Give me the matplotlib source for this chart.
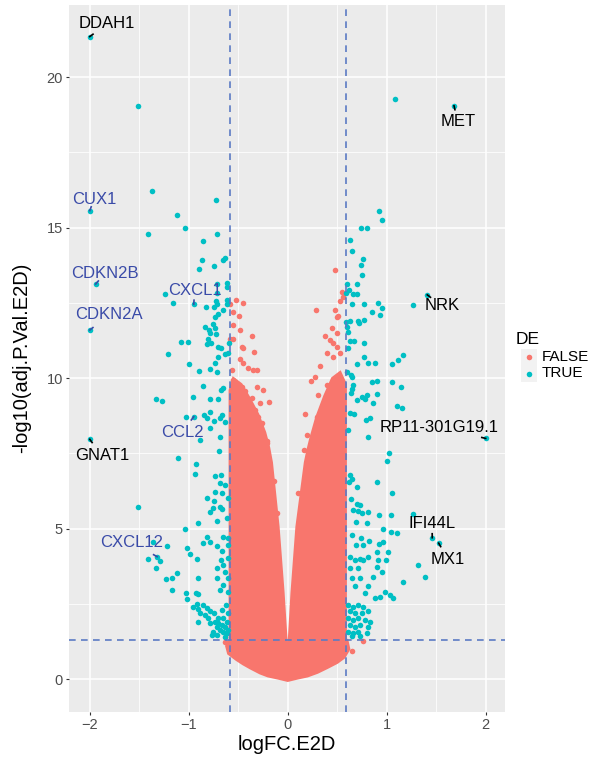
import matplotlib
matplotlib.use("Agg")
import matplotlib.pyplot as plt
import numpy as np

plt.rcParams['font.family'] = ['Liberation Sans', 'DejaVu Sans']

RED = '#F8766D'
CYAN = '#00BFC4'
BLUE_TXT = '#3A4BA8'
DASH = '#5B7BC4'

# dense, non-significant core of the cloud (outline)
core_x = [-0.55, -0.585, -0.585, -0.62, -0.60, -0.52, -0.45, -0.38, -0.28, -0.20, -0.10,
          0.0, 0.10, 0.20, 0.30, 0.40, 0.50, 0.57, 0.62, 0.60, 0.585, 0.585,
          0.53, 0.45, 0.37, 0.29, 0.23, 0.20, 0.175, 0.09, 0.04, 0.0,
          -0.044, -0.095, -0.162, -0.19, -0.23, -0.30, -0.38, -0.47]
core_y = [10.0, 9.6, 1.3, 1.1, 0.85, 0.65, 0.5, 0.37, 0.2, 0.1, 0.03,
          -0.05, 0.03, 0.1, 0.22, 0.38, 0.55, 0.72, 1.0, 1.3, 1.3, 9.8,
          10.2, 10.0, 9.4, 8.7, 8.0, 7.6, 7.2, 5.07, 2.86, 0.55,
          2.86, 5.07, 7.2, 7.7, 8.2, 8.8, 9.3, 9.8]

# scattered non-significant genes around the core
red_x = [-0.518, -0.455, -0.583, -0.489, -0.549, -0.482, -0.364, -0.465, -0.34, -0.58, -0.549, -0.482,
         -0.549, -0.455, -0.448, -0.398, -0.347, -0.313, -0.566, -0.549, -0.313, -0.465, -0.431, -0.518,
         -0.364, -0.280, -0.186, -0.330, -0.448, -0.381, -0.297, -0.263, -0.518, -0.465, -0.398, -0.212,
         -0.313, -0.633, -0.11, -0.14, -0.21, -0.25,
         0.478, 0.545, 0.562, 0.528, 0.286, 0.511, 0.444, 0.495, 0.377, 0.427, 0.461, 0.394, 0.528,
         0.478, 0.495, 0.495, 0.461, 0.326, 0.276, 0.394, 0.444, 0.31, 0.495, 0.528, 0.36, 0.461,
         0.175, 0.293, 0.394, 0.192, 0.208, 0.461, 0.764, 0.646, 0.124, 0.107, 0.16, 0.23]
red_y = [12.59, 12.49, 12.45, 12.08, 11.76, 11.60, 11.40, 11.04, 10.87, 11.31, 11.31, 10.64,
         12.21, 11.0, 10.50, 10.33, 10.28, 10.28, 10.28, 9.94, 9.70, 9.70, 9.56, 9.61,
         9.34, 9.17, 9.20, 8.95, 9.06, 8.84, 8.72, 8.50, 8.72, 8.39, 8.17, 7.84,
         7.95, 1.22, 5.51, 6.6, 7.9, 9.6,
         13.58, 12.88, 12.71, 12.55, 12.25, 12.07, 11.66, 11.50, 11.41, 11.27, 11.16, 10.83, 10.83,
         12.27, 12.05, 11.05, 10.72, 10.39, 10.05, 9.78, 9.67, 9.45, 9.56, 9.34, 9.06, 8.95,
         8.81, 8.72, 8.61, 8.12, 7.29, 8.28, 1.27, 0.94, 5.29, 6.18, 7.6, 9.9]

# significant genes (DE = TRUE)
cyan_x = [-1.51, -1.376, -0.725, -1.114, -1.037, -1.408, -0.717, -0.856, -0.63, -0.65, -0.866, -0.747,
          -0.893, -0.616, -0.711, -1.24, -0.61, -1.155, -0.711, -0.724, -0.711, -0.741, -0.616, -0.61,
          -0.828, -0.65, -0.70, -0.73, -0.757, -0.835, -0.80, -0.785, -0.734, -0.724, -0.805, -0.812,
          -0.775, -1.08, -1.007, -0.70, -0.674, -0.59, -0.60, -0.633, -1.212, -0.707, -0.997, -0.731,
          -0.785, -0.717, -0.899, -0.859, -0.65, -0.674, -1.327, -1.27, -0.954, -0.79, -0.70,
          -1.027, -0.842, -0.818, -0.785, -0.741, -0.684, -0.633, -0.667, -0.785, -0.886, -0.684, -1.105,
          -0.69, -0.923, -0.936, -0.731, -0.674, -0.633, -0.684, -0.734, -0.667, -0.60, -0.818, -0.741,
          -0.684, -0.751, -0.667, -1.515, -0.785, -0.717, -0.616, -0.909, -1.037,
          -0.812, -0.859, -0.785, -0.717, -0.60, -0.65, -0.60, -0.667,
          -1.358, -1.222, -1.414, -1.29, -1.334, -1.02, -0.987, -0.919,
          -0.677, -0.65, -0.60, -0.633, -0.717, -1.121, -1.166, -1.232, -1.172,
          -0.903, -0.903, -0.926, -1.03, -1.014, -0.96, -0.919, -0.903,
          -0.717, -0.65, -0.60, -0.684, -0.60,
          -0.853, -0.818, -0.785, -0.835, -0.802, -0.886, -0.903,
          -0.734, -0.70, -0.667, -0.633, -0.717, -0.684, -0.65, -0.616, -0.751, -0.785, -0.70, -0.65,
          -0.616, -0.717, -0.768, -0.63, -0.60, -0.60, -0.62, -0.66, -0.74,
          1.084, 0.919, 0.953, 0.737, 0.804, 0.632, 0.653, 0.764, 0.737, 0.753,
          0.602, 0.622, 0.656, 0.697, 0.703, 0.59,
          0.646, 0.774, 0.915, 0.949, 0.855, 0.932, 1.269,
          0.629, 0.589, 0.713, 0.72, 0.771, 0.596, 0.612,
          0.629, 0.67, 0.768, 0.606,
          0.774, 0.814, 0.885, 0.697, 1.05, 1.111, 1.165,
          0.602, 0.639, 0.653, 0.848, 0.899, 1.05, 1.147,
          0.663, 0.646, 0.639, 0.697, 0.747, 0.798, 0.784, 0.865, 0.905, 1.101, 1.152,
          0.629, 0.67, 0.791, 0.831, 0.612, 0.814, 1.023, 1.0,
          0.629, 0.653, 0.622, 0.697, 0.899, 1.057,
          0.639, 0.697, 0.73, 0.663, 0.713, 0.747, 0.814, 0.687, 0.798,
          0.925, 1.043, 1.263, 0.966, 1.040, 1.101,
          0.646, 0.687, 0.740, 0.764, 0.824, 0.922, 0.966, 0.899, 0.814, 0.764,
          0.629, 0.680, 0.730, 1.016, 0.993, 0.915, 0.899, 0.95, 0.865,
          1.313, 1.387, 1.162,
          0.629, 0.713, 0.646, 0.730, 0.680, 0.814, 0.780, 0.882, 0.932, 0.983, 1.033, 1.067,
          0.612, 0.663, 0.713, 0.764, 0.629, 0.680, 0.747, 0.814, 0.612, 0.663, 0.713, 0.780,
          0.831, 0.629, 0.680, 0.730, 0.612, 0.663, 0.713, 0.646, 0.730, 0.814, 0.797]
cyan_y = [19.05, 16.22, 15.91, 15.41, 14.99, 14.79, 14.79, 14.57, 14.0, 13.92, 13.92, 13.74,
          13.63, 13.16, 13.13, 12.81, 13.02, 12.5, 12.82, 12.58, 12.47, 12.38, 12.6, 12.47,
          12.35, 12.27, 12.15, 12.03, 11.8, 11.69, 11.6, 11.51, 11.68, 11.46, 11.3, 11.14,
          11.16, 11.2, 11.2, 11.05, 11.02, 11.18, 10.83, 10.81, 10.8, 10.72, 10.47, 10.5,
          10.31, 10.22, 10.24, 9.75, 9.69, 9.61, 9.31, 9.25, 9.37, 9.31, 9.31,
          8.70, 8.78, 8.67, 8.87, 8.58, 8.69, 8.56, 8.78, 8.34, 7.95, 8.06, 7.34,
          7.58, 7.14, 6.83, 6.76, 6.79, 6.45, 6.51, 6.23, 6.18, 6.01, 6.01, 5.92,
          5.73, 5.68, 5.65, 5.73, 5.57, 5.26, 5.35, 5.18, 4.98,
          4.72, 4.54, 4.55, 4.41, 4.46, 4.74, 4.68, 4.27,
          4.57, 4.43, 3.99, 3.94, 3.71, 4.35, 4.15, 3.99,
          3.96, 3.80, 4.02, 3.57, 3.69, 3.52, 3.36, 3.33, 2.97,
          3.36, 2.82, 2.88, 2.88, 2.66, 2.41, 2.49, 2.34,
          3.36, 3.13, 3.36, 2.97, 2.91,
          2.47, 2.36, 2.25, 2.14, 2.03, 2.19, 1.89,
          1.91, 1.86, 1.80, 1.75, 1.75, 1.64, 1.58, 1.53, 1.58, 1.86, 2.03, 2.03,
          1.91, 1.47, 1.47, 1.40, 1.65, 2.20, 2.45, 2.30, 2.20,
          19.28, 15.56, 15.26, 14.99, 14.99, 14.6, 14.23, 13.96, 13.76, 13.43,
          13.12, 12.93, 12.81, 12.81, 13.12, 12.82,
          12.46, 12.46, 12.49, 12.34, 12.19, 12.09, 12.44,
          11.9, 11.86, 11.91, 11.85, 11.93, 11.69, 11.55,
          11.22, 11.22, 11.17, 11.0,
          10.72, 10.49, 10.5, 10.47, 10.47, 10.6, 10.77,
          10.22, 10.1, 10.05, 9.88, 9.92, 9.89, 9.71,
          9.78, 9.63, 9.5, 9.28, 9.37, 9.44, 9.31, 9.17, 9.47, 9.08, 9.0,
          8.84, 8.81, 8.61, 8.67, 8.28, 8.04, 7.53, 7.25,
          6.79, 6.65, 6.56, 6.40, 6.56, 6.18,
          5.99, 5.81, 5.79, 5.62, 5.59, 5.51, 5.55, 5.22, 5.18,
          5.46, 5.46, 5.50, 4.99, 4.89, 4.85,
          4.79, 4.46, 4.68, 4.46, 4.60, 4.49, 4.55, 4.21, 4.07, 3.96,
          4.07, 3.96, 4.0, 4.24, 3.96, 3.96, 3.74, 3.57, 3.41,
          3.80, 3.39, 3.24,
          3.69, 3.69, 3.36, 3.36, 3.08, 3.08, 2.86, 2.71, 2.74, 2.91, 2.80, 2.71,
          2.47, 2.41, 2.47, 2.41, 2.25, 2.19, 2.19, 2.25, 2.03, 1.97, 2.03, 1.97,
          1.91, 1.80, 1.75, 1.80, 1.58, 1.53, 1.58, 1.42, 1.42, 1.75, 1.53]

# labelled genes
lab_names = ['DDAH1', 'CUX1', 'CDKN2B', 'CDKN2A', 'CXCL1', 'MET', 'NRK', 'GNAT1',
             'CCL2', 'CXCL12', 'RP11-301G19.1', 'IFI44L', 'MX1']
lab_x = [-2.0, -2.0, -1.94, -2.0, -0.95, 1.68, 1.41, -2.0, -0.95, -1.32, 2.0, 1.46, 1.525]
lab_y = [21.35, 15.57, 13.13, 11.6, 12.46, 19.05, 12.77, 7.97, 8.72, 4.07, 8.0, 4.7, 4.52]
lab_tx = [-1.828, -1.957, -1.846, -1.805, -0.939, 1.717, 1.556, -1.879, -1.068, -1.575, 1.525, 1.458, 1.619]
lab_ty = [21.77, 15.95, 13.49, 12.11, 12.93, 18.53, 12.40, 7.42, 8.20, 4.55, 8.37, 5.18, 3.98]
lab_blue = [False, True, True, True, True, False, False, False, True, True, False, False, False]

W, H = 606, 761
fig = plt.figure(figsize=(W / 100, H / 100), dpi=100)
fig.patch.set_facecolor('white')
ax = fig.add_axes([69 / W, 1 - 711.7 / H, 436 / W, 706.7 / H])
ax.set_facecolor('#EBEBEB')
for s in ax.spines.values():
    s.set_visible(False)

ax.set_xlim(-2.21, 2.195)
ax.set_ylim(-1.08, 22.4)
ax.set_xticks([-2, -1, 0, 1, 2])
ax.set_yticks([0, 5, 10, 15, 20])
ax.set_xticks([-1.5, -0.5, 0.5, 1.5], minor=True)
ax.set_yticks([2.5, 7.5, 12.5, 17.5], minor=True)
ax.grid(which='major', color='white', linewidth=1.1)
ax.grid(which='minor', color='white', linewidth=0.55)
ax.set_axisbelow(True)
ax.tick_params(which='major', length=2.5, width=0.8, color='#333333',
               labelcolor='#4D4D4D', labelsize=10.5, pad=2)
ax.tick_params(which='minor', length=0)

ax.fill(core_x, core_y, color=RED, lw=1.8, ec=RED, zorder=2)
ax.scatter(red_x, red_y, s=16, c=RED, linewidths=0, zorder=3)
ax.scatter(cyan_x, cyan_y, s=16, c=CYAN, linewidths=0, zorder=3)
ax.scatter(lab_x, lab_y, s=16, c=CYAN, linewidths=0, zorder=3)

ax.axvline(-0.585, color=DASH, lw=1.2, ls=(0, (4, 3.2)), zorder=4)
ax.axvline(0.585, color=DASH, lw=1.2, ls=(0, (4, 3.2)), zorder=4)
ax.axhline(-np.log10(0.05), color=DASH, lw=1.2, ls=(0, (4, 3.2)), zorder=4)

# short repel segments + labels
sx, sy = 99.0, 30.1  # px per data unit
for name, px, py, tx, ty, blue in zip(lab_names, lab_x, lab_y, lab_tx, lab_ty, lab_blue):
    col = BLUE_TXT if blue else 'black'
    dx, dy = (tx - px) * sx, (ty - py) * sy
    n = np.hypot(dx, dy)
    ax.plot([px, px + dx / n * 4 / sx], [py, py + dy / n * 4 / sy], color=col, lw=1.2, zorder=5)
    ax.text(tx, ty, name, color=col, fontsize=12, ha='center', va='center', zorder=6)

fig.text(287 / W, 1 - 745 / H, 'logFC.E2D', fontsize=14.5, ha='center', va='center')
fig.text(22 / W, 1 - 358 / H, '-log10(adj.P.Val.E2D)', fontsize=14.5, rotation=90,
         ha='center', va='center')

# legend
fig.text(516 / W, 1 - 339 / H, 'DE', fontsize=12.5, ha='left', va='center')
lax = fig.add_axes([520.7 / W, 1 - 382 / H, 16.3 / W, 33 / H])
lax.set_facecolor('#F2F2F2')
lax.set_xlim(0, 1)
lax.set_ylim(0, 1)
lax.set_xticks([])
lax.set_yticks([])
for s in lax.spines.values():
    s.set_visible(False)
lax.scatter([0.5], [0.75], s=16, c=RED, linewidths=0)
lax.scatter([0.5], [0.25], s=16, c=CYAN, linewidths=0)
fig.text(541.7 / W, 1 - 357 / H, 'FALSE', fontsize=11, ha='left', va='center')
fig.text(541.7 / W, 1 - 373 / H, 'TRUE', fontsize=11, ha='left', va='center')

fig.savefig('out.png', dpi=100)
